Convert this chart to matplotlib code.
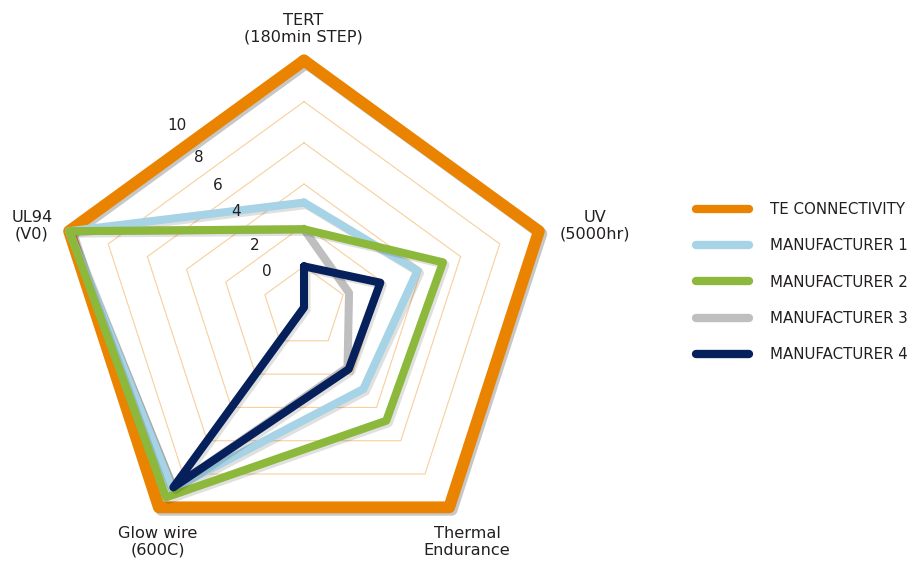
import numpy as np
import matplotlib
matplotlib.use("Agg")
import matplotlib.pyplot as plt
import matplotlib.patheffects as pe
from matplotlib.lines import Line2D

plt.rcParams['font.family'] = ['DejaVu Sans']

categories = ["TERT\n(180min STEP)", "UV\n(5000hr)", "Thermal\nEndurance",
              "Glow wire\n(600C)", "UL94\n(V0)"]
series_names = ["TE CONNECTIVITY", "MANUFACTURER 1", "MANUFACTURER 2",
                "MANUFACTURER 3", "MANUFACTURER 4"]
te_connectivity = [10, 10, 10, 10, 10]
manufacturer_1 = [3.1, 3.8, 2.9, 8.9, 10]
manufacturer_2 = [1.8, 5.1, 4.8, 9.4, 10]
manufacturer_3 = [1.8, 0.3, 1.6, 8.8, 10]
manufacturer_4 = [0.0, 1.9, 1.7, 8.8, -2]
radial_ticks = [0, 2, 4, 6, 8, 10]
r_min, r_max = -2, 10

colors = ["#E98300", "#A6D3E6", "#8CB83C", "#BFBFBF", "#06205C"]
widths = [8.5, 5.8, 5.8, 5.8, 5.8]
# stacking order of the series (grey sits under the green and navy lines)
zorders = [3, 5, 6, 4, 7]
shadow_alpha = [0.22, 0.12, 0.12, 0.0, 0.12]

W, H = 916, 562
fig = plt.figure(figsize=(W / 100, H / 100), dpi=100)
cx, cy, R = 304, 307.5, 247
ax = fig.add_axes([(cx - R) / W, (H - cy - R) / H, 2 * R / W, 2 * R / H],
                  projection='polar')
ax.set_theta_offset(np.pi / 2)
ax.set_theta_direction(-1)
ax.set_ylim(r_min, r_max)
ax.axis('off')

n = len(categories)
theta = np.linspace(0, 2 * np.pi, n, endpoint=False)
theta_closed = np.append(theta, theta[0])

# pentagon gridlines
for v in radial_ticks:
    ax.plot(theta_closed, [v] * (n + 1), color="#F8CF9E", lw=0.8, zorder=1)

all_series = [te_connectivity, manufacturer_1, manufacturer_2,
              manufacturer_3, manufacturer_4]
for i, vals in enumerate(all_series):
    effects = [pe.Normal()]
    if shadow_alpha[i] > 0:
        effects = [pe.SimpleLineShadow(offset=(1.8, -1.8), shadow_color='black',
                                       alpha=shadow_alpha[i]), pe.Normal()]
    ax.plot(theta_closed, list(vals) + [vals[0]], color=colors[i], lw=widths[i],
            solid_joinstyle='round', solid_capstyle='round', clip_on=False,
            path_effects=effects, zorder=zorders[i])

text_color = "#231F20"

# radial value labels
label_px = [(267, 272), (255, 245), (236, 212), (218, 185), (199, 158), (177, 125)]
for v, (px, py) in zip(radial_ticks, label_px):
    fig.text(px / W, 1 - py / H, str(v), ha='center', va='center',
             fontsize=11, color=text_color)

# category labels
cat_px = [(303, 29), (595, 226), (467, 542), (158, 542), (32, 226)]
for lab, (px, py) in zip(categories, cat_px):
    fig.text(px / W, 1 - py / H, lab, ha='center', va='center',
             fontsize=11.6, color=text_color, linespacing=1.1)

handles = [Line2D([0], [0], color=c, lw=6.0, solid_capstyle='round') for c in colors]
fig.legend(handles, series_names, loc='upper left',
           bbox_to_anchor=(696 / W, 1 - 202 / H), frameon=False,
           fontsize=10.8, handlelength=3.53, handletextpad=1.4,
           labelspacing=1.42, borderaxespad=0, borderpad=0,
           labelcolor=text_color)

fig.savefig("out.png", dpi=100)
